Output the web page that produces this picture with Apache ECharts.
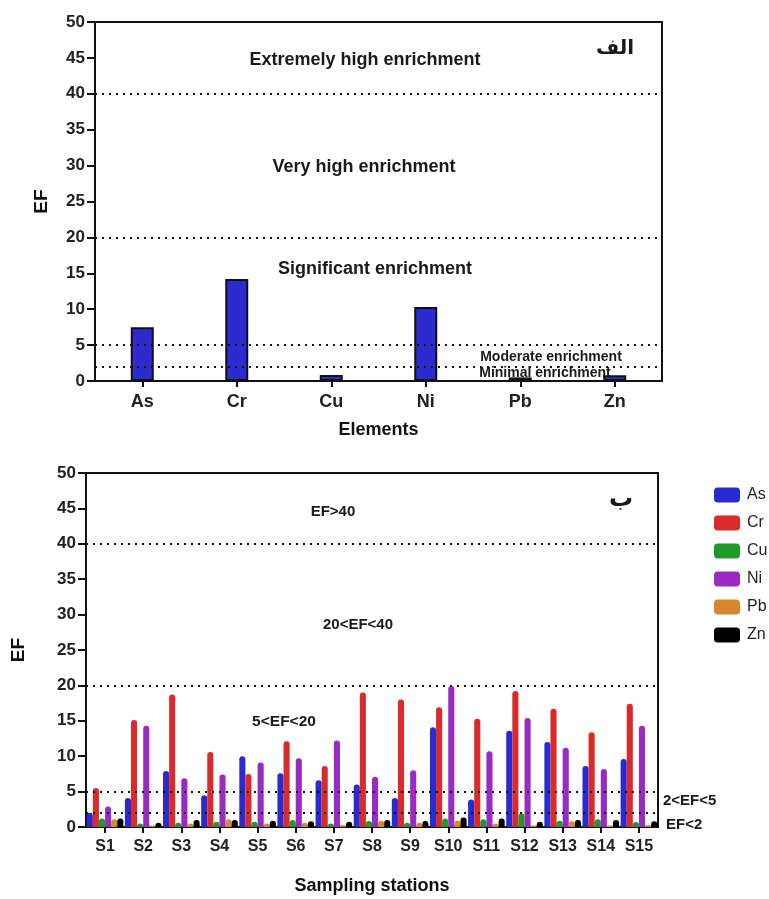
<!DOCTYPE html>
<html><head><meta charset="utf-8">
<script src="https://cdn.jsdelivr.net/npm/echarts@6/dist/echarts.min.js"></script>
<style>html,body{margin:0;padding:0;background:#fff}#c{width:769px;height:899px}</style>
</head><body><div id="c"></div>
<script>
// ---- data ----
const elements = ['As','Cr','Cu','Ni','Pb','Zn'];
const elementEF = [7.5, 14.2, 0.85, 10.3, 0.5, 0.8];
const stations = ['S1','S2','S3','S4','S5','S6','S7','S8','S9','S10','S11','S12','S13','S14','S15'];
const efAs = [2.0, 4.1, 7.9, 4.5, 10.0, 7.6, 6.6, 6.0, 4.1, 14.1, 3.9, 13.6, 12.0, 8.6, 9.6];
const efCr = [5.5, 15.1, 18.7, 10.6, 7.5, 12.1, 8.6, 19.0, 18.0, 16.9, 15.3, 19.2, 16.7, 13.4, 17.4];
const efCu = [1.2, 0.5, 0.6, 0.75, 0.75, 1.0, 0.5, 0.85, 0.6, 1.2, 1.1, 1.9, 0.9, 1.1, 0.7];
const efNi = [2.9, 14.3, 6.9, 7.4, 9.1, 9.7, 12.2, 7.1, 8.0, 19.9, 10.7, 15.4, 11.2, 8.2, 14.3];
const efPb = [1.1, 0.2, 0.5, 1.1, 0.5, 0.6, 0.3, 0.9, 0.6, 0.9, 0.5, 0.2, 0.8, 0.2, 0.3];
const efZn = [1.2, 0.6, 1.0, 1.0, 0.9, 0.8, 0.75, 1.0, 0.85, 1.35, 1.2, 0.75, 1.0, 1.0, 0.8];
const thresholds = [40, 20, 5, 2];
const yTicks = {min: 0, max: 50, interval: 5};

const F = 'Liberation Sans, Arial, sans-serif';
const colors = {As:'#2a2ad4', Cr:'#d92b2b', Cu:'#1f9a2a', Ni:'#9a2bc2', Pb:'#d9862e', Zn:'#000000'};

const chart = echarts.init(document.getElementById('c'), null, {renderer:'canvas'});

function yAxis(gi, nameGap){
  return {
    gridIndex: gi, type:'value', min: yTicks.min, max: yTicks.max, interval: yTicks.interval,
    name:'EF', nameLocation:'middle', nameGap: nameGap, nameRotate: 90,
    nameTextStyle:{fontFamily:F, fontWeight:'bold', fontSize:19, color:'#111'},
    axisLine:{show:true, lineStyle:{color:'#111', width:2}},
    axisTick:{show:true, inside:false, length:8, lineStyle:{color:'#111', width:2}},
    axisLabel:{fontFamily:F, fontWeight:'bold', fontSize:17, color:'#222', margin:10},
    splitLine:{show:false}
  };
}
function xAxis(gi, data, name, nameGap, fs, margin){
  return {
    gridIndex: gi, type:'category', data: data,
    name: name, nameLocation:'middle', nameGap: nameGap,
    nameTextStyle:{fontFamily:F, fontWeight:'bold', fontSize:18, color:'#111'},
    axisLine:{show:true, onZero:false, lineStyle:{color:'#111', width:2}},
    axisTick:{show:true, alignWithLabel:true, length:6, lineStyle:{color:'#111', width:2}},
    axisLabel:{fontFamily:F, fontWeight:'bold', fontSize:fs, color:'#222', margin:margin, interval:0}
  };
}
function dotted(){
  return {
    silent:true, symbol:['none','none'], label:{show:false},
    lineStyle:{type:[2,5], color:'#111', width:2},
    data: thresholds.map(v => ({yAxis: v}))
  };
}
function bar(name, data){
  return {
    name: name, type:'bar', xAxisIndex:1, yAxisIndex:1, data: data,
    barGap:'0%', barCategoryGap:'4%',
    itemStyle:{color: colors[name], borderRadius:[3,3,0,0]}
  };
}

function txt(x, y, text, size, align, family){
  return {type:'text', x:x, y:y, z:100, style:{text:text, fill:'#1a1a1a',
    font:'bold ' + size + 'px ' + (family || F), textAlign: align || 'center', textVerticalAlign:'middle'}};
}

const option = {
  animation:false,
  backgroundColor:'#ffffff',
  grid:[
    {left:95, right:107, top:22, bottom:518, show:true, borderColor:'#111', borderWidth:2, backgroundColor:'transparent'},
    {left:86, right:111, top:473, bottom:72, show:true, borderColor:'#111', borderWidth:2, backgroundColor:'transparent'}
  ],
  xAxis:[ xAxis(0, elements, 'Elements', 40, 18, 12), xAxis(1, stations, 'Sampling stations', 50, 16, 12) ],
  yAxis:[ yAxis(0, 44), yAxis(1, 58) ],
  legend:{
    data:['As','Cr','Cu','Ni','Pb','Zn'], orient:'vertical', left:709, top:482,
    itemWidth:26, itemHeight:15, itemGap:12, icon:'roundRect',
    textStyle:{fontFamily:F, fontSize:16, color:'#222', padding:[0,0,0,2]}
  },
  series:[
    {name:'EF', type:'bar', xAxisIndex:0, yAxisIndex:0, data: elementEF, barWidth:23,
     itemStyle:{color:'#2b2bd0', borderColor:'#111', borderWidth:2}, markLine: dotted()},
    Object.assign(bar('As', efAs), {markLine: dotted()}),
    bar('Cr', efCr), bar('Cu', efCu), bar('Ni', efNi), bar('Pb', efPb), bar('Zn', efZn)
  ],
  graphic:[
    txt(365, 60, 'Extremely high enrichment', 18),
    txt(364, 167, 'Very high enrichment', 18),
    txt(375, 269, 'Significant enrichment', 18),
    txt(551, 357, 'Moderate enrichment', 14),
    txt(545, 373, 'Minimal enrichment', 14),
    txt(615, 49, 'الف', 20, 'center', 'DejaVu Sans, Noto Sans, sans-serif'),
    txt(333, 512, 'EF>40', 15),
    txt(358, 625, '20<EF<40', 15),
    txt(284, 722, '5<EF<20', 15.5),
    txt(621, 500, 'ب', 24, 'center', 'DejaVu Sans, Noto Sans, sans-serif'),
    txt(663, 801, '2<EF<5', 15, 'left'),
    txt(666, 825, 'EF<2', 15, 'left')
  ]
};
chart.setOption(option);
</script></body></html>
